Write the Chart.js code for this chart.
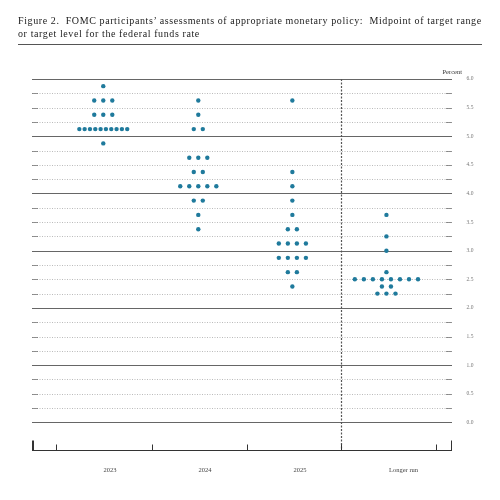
<!DOCTYPE html>
<html><head><meta charset="utf-8">
<script src="https://cdn.jsdelivr.net/npm/chart.js@4"></script>
<style>
body{margin:0;background:#fff;}
#wrap{position:relative;width:500px;height:500px;}
#title{position:absolute;left:18px;top:14px;width:480px;font-family:"Liberation Serif","DejaVu Serif",serif;font-size:10px;line-height:13px;color:#222;letter-spacing:0.6px;white-space:nowrap;}
#rule{position:absolute;left:18px;top:44px;width:464px;border-top:1px solid #555;}
canvas{position:absolute;left:0;top:0;}
</style></head><body>
<div id="wrap">
<canvas id="c" width="500" height="500"></canvas>
<div id="title">Figure 2.&nbsp; FOMC participants’ assessments of appropriate monetary policy:&nbsp; Midpoint of target range<br>or target level for the federal funds rate</div>
<div id="rule"></div>
</div>
<script>
const categories = ["2023", "2024", "2025", "Longer run"];
const rates2023 = [5.875, 5.625, 5.375, 5.125, 4.875];
const counts2023 = [1, 3, 3, 10, 1];
const rates2024 = [5.625, 5.375, 5.125, 4.625, 4.375, 4.125, 3.875, 3.625, 3.375];
const counts2024 = [1, 1, 2, 3, 2, 5, 2, 1, 1];
const rates2025 = [5.625, 4.375, 4.125, 3.875, 3.625, 3.375, 3.125, 2.875, 2.625, 2.375];
const counts2025 = [1, 1, 1, 1, 1, 2, 4, 4, 2, 1];
const ratesLR = [3.625, 3.25, 3.0, 2.625, 2.5, 2.375, 2.25];
const countsLR = [1, 1, 1, 1, 8, 2, 3];
const yTicks = [0,0.5,1,1.5,2,2.5,3,3.5,4,4.5,5,5.5,6];

const centers = [0.75, 1.75, 2.74, 3.73];
const labelPos = [0.82, 1.82, 2.82, 3.91];
const tickPos = [0.25, 1.26, 2.26, 3.25, 4.25];
const dividerPos = 3.25;

function buildPoints(rates, counts, ci){
  const pts=[];
  rates.forEach((r,k)=>{
    const n=counts[k];
    const step = n>=10 ? 0.056 : 0.095;
    for(let j=0;j<n;j++) pts.push({x:centers[ci]+(j-(n-1)/2)*step, y:r});
  });
  return pts;
}
const allPts = [].concat(
  buildPoints(rates2023,counts2023,0),
  buildPoints(rates2024,counts2024,1),
  buildPoints(rates2025,counts2025,2),
  buildPoints(ratesLR,countsLR,3));

const deco = {
  id:'deco',
  beforeDatasetsDraw(ch){
    const c=ch.ctx, a=ch.chartArea, xs=ch.scales.x, ys=ch.scales.y;
    c.save();
    for(let v=0; v<=6.001; v+=0.25){
      const y=Math.round(ys.getPixelForValue(v))+0.5;
      const solid = Math.abs(v-Math.round(v))<1e-6;
      c.beginPath();
      c.strokeStyle = solid ? '#666' : '#aaa';
      c.lineWidth = solid ? 1 : 0.8;
      c.setLineDash(solid ? [] : [1,1.5]);
      c.moveTo(a.left,y); c.lineTo(a.right,y); c.stroke();
      if(!solid){
        c.setLineDash([]); c.strokeStyle='#777';
        c.beginPath(); c.moveTo(a.left,y); c.lineTo(a.left+6,y);
        c.moveTo(a.right-6,y); c.lineTo(a.right,y); c.stroke();
      }
    }
    c.setLineDash([]);
    const dx=Math.round(xs.getPixelForValue(dividerPos))+0.5;
    c.strokeStyle='#555'; c.lineWidth=1.2; c.setLineDash([2,1.5]);
    c.beginPath(); c.moveTo(dx,a.top); c.lineTo(dx,a.bottom); c.stroke();
    c.setLineDash([]);
    const by=a.bottom-0.5;
    c.strokeStyle='#333'; c.lineWidth=1;
    c.beginPath(); c.moveTo(a.left,by); c.lineTo(a.right,by); c.stroke();
    c.lineWidth=2; c.beginPath(); c.moveTo(a.left+1,by); c.lineTo(a.left+1,by-10); c.stroke();
    c.lineWidth=1; c.beginPath(); c.moveTo(a.right-0.5,by); c.lineTo(a.right-0.5,by-10); c.stroke();
    tickPos.forEach(t=>{const x=Math.round(xs.getPixelForValue(t))+0.5;
      c.beginPath(); c.moveTo(x,by); c.lineTo(x,by-6); c.stroke();});
    c.fillStyle='#444'; c.font='6.5px "Liberation Serif", serif'; c.textAlign='center'; c.textBaseline='middle';
    categories.forEach((l,i)=>c.fillText(l, xs.getPixelForValue(labelPos[i]), a.bottom+19));
    c.font='5.5px "Liberation Serif", serif'; c.fillStyle='#777';
    yTicks.forEach(v=>c.fillText(v.toFixed(1), a.right+18, ys.getPixelForValue(v)));
    c.fillStyle='#333'; c.font='6.5px "Liberation Serif", serif'; c.textAlign='right';
    c.fillText('Percent', a.right+10, a.top-7);
    c.restore();
  }
};

new Chart(document.getElementById('c'),{
  type:'scatter',
  data:{datasets:[{data:allPts, backgroundColor:'#1f7a9c', borderColor:'#1f7a9c', pointRadius:2.2, pointHoverRadius:2.2, borderWidth:0}]},
  options:{
    responsive:false, animation:false,
    layout:{padding:{left:32,right:48,top:79,bottom:49}},
    plugins:{legend:{display:false},tooltip:{enabled:false}},
    scales:{
      x:{type:'linear',min:0,max:4.42,display:false},
      y:{type:'linear',min:-0.5,max:6,display:false}
    }
  },
  plugins:[deco]
});
</script>
</body></html>
